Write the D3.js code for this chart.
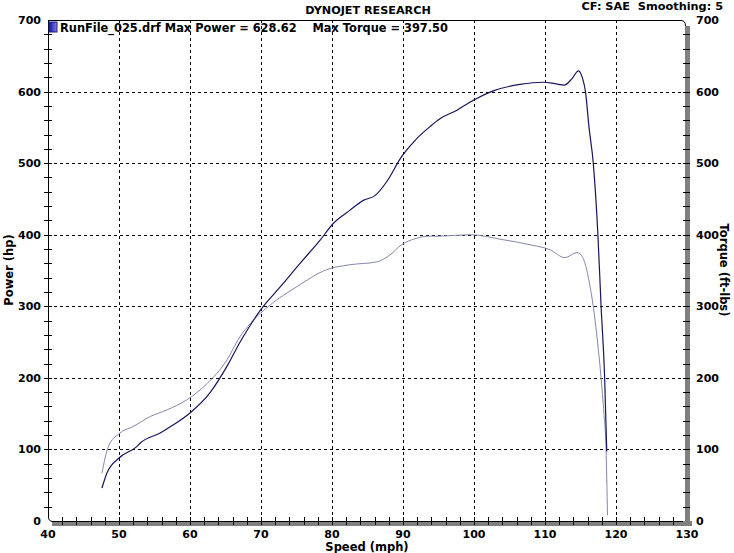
<!DOCTYPE html>
<html>
<head>
<meta charset="utf-8">
<script src="https://cdn.jsdelivr.net/npm/d3@7"></script>
<style>
  body { margin: 0; background: #fff; }
  svg text { font-family: "DejaVu Sans", Verdana, sans-serif; font-weight: bold; fill: #000; }
</style>
</head>
<body>
<svg width="734" height="553"></svg>
<script>
// speed (mph) and readings, taken off the dyno sheet
var powerSpeed = [47.6, 48.3, 50.0, 52.5, 53.0, 55.8, 57.6, 60.0, 62.8, 65.2, 67.0, 70.1, 72.7, 75.5, 78.3, 80.2, 82.5, 84.4, 86.1, 87.7, 89.8, 91.9, 93.8, 95.2, 97.6, 99.9, 102.7, 106.5, 109.8, 111.4, 112.7, 113.8, 114.7, 115.3, 115.7, 116.2, 116.8, 117.45, 117.9, 118.4, 118.7];
var powerHp    = [46, 67, 88, 104, 109, 123, 134, 151, 179, 216, 249, 297, 327, 360, 392, 416, 434, 448, 455, 474, 509, 534, 551, 562, 574, 588, 601, 610, 613, 611, 609, 618, 629, 618, 600, 550, 500, 400, 300, 200, 97];

var torqueSpeed = [47.6, 48.5, 50.0, 52.0, 54.4, 56.7, 59.5, 62.4, 65.2, 67.0, 68.5, 71.3, 75.0, 79.2, 82.5, 86.3, 88.2, 89.8, 91.9, 93.8, 95.2, 99.4, 104.1, 107.9, 110.7, 112.8, 114.5, 115.2, 115.9, 116.3, 116.8, 117.4, 117.9, 118.3, 118.6, 118.8];
var torqueFt    = [67, 104, 122, 132, 146, 155, 169, 192, 225, 257, 276, 302, 327, 351, 358, 362, 372, 386, 395, 398, 398, 400, 393, 386, 379, 368, 375, 370, 350, 330, 300, 250, 200, 150, 100, 8];

var xTicks = [40, 50, 60, 70, 80, 90, 100, 110, 120, 130];
var yTicks = [0, 100, 200, 300, 400, 500, 600, 700];

var svg = d3.select("svg");
var pL = 48, pR = 687, pT = 20, pB = 521;

var x = d3.scaleLinear().domain([40, 130]).range([pL, pR]);
var y = d3.scaleLinear().domain([0, 700]).range([pB, pT]);

// dashed grid
svg.append("g").selectAll("line")
  .data(xTicks.slice(1, -1))
  .enter().append("line")
  .attr("x1", function(d) { return Math.round(x(d)) + 0.5; })
  .attr("x2", function(d) { return Math.round(x(d)) + 0.5; })
  .attr("y1", pT).attr("y2", pB)
  .attr("stroke", "#000").attr("stroke-dasharray", "3,3");

svg.append("g").selectAll("line")
  .data(yTicks.slice(1, -1))
  .enter().append("line")
  .attr("y1", function(d) { return Math.round(y(d)) + 0.5; })
  .attr("y2", function(d) { return Math.round(y(d)) + 0.5; })
  .attr("x1", pL).attr("x2", pR)
  .attr("stroke", "#000").attr("stroke-dasharray", "3,3");

// frame: grey shadow bars on right and bottom, black lines on top
svg.append("rect").attr("x", pR - 2).attr("y", pT + 6).attr("width", 5).attr("height", pB - pT - 1).attr("fill", "#808080");
svg.append("rect").attr("x", pL + 4).attr("y", pB).attr("width", pR - pL + 1).attr("height", 5).attr("fill", "#808080");
svg.append("path")
  .attr("d", "M" + (pL + 0.5) + "," + pT + " V" + (pB - 4) + " Q" + (pL + 0.5) + "," + (pB + 0.5) + " " + (pL + 5) + "," + (pB + 0.5) +
             " H" + (pR - 4))
  .attr("fill", "none").attr("stroke", "#000");
svg.append("path")
  .attr("d", "M" + pL + "," + (pT + 0.5) + " H" + (pR - 6) + " Q" + (pR - 1.5) + "," + (pT + 0.5) + " " + (pR - 1.5) + "," + (pT + 6))
  .attr("fill", "none").attr("stroke", "#000");

// minor ticks
var yMinor = d3.range(20, 700, 20);
svg.append("g").selectAll("line").data(yMinor).enter().append("line")
  .attr("x1", pL - 4).attr("x2", pL + 4)
  .attr("y1", function(d) { return Math.round(y(d)) + 0.5; })
  .attr("y2", function(d) { return Math.round(y(d)) + 0.5; })
  .attr("stroke", "#000");
svg.append("g").selectAll("line").data(yMinor).enter().append("line")
  .attr("x1", pR - 4).attr("x2", pR + 3)
  .attr("y1", function(d) { return Math.round(y(d)) + 0.5; })
  .attr("y2", function(d) { return Math.round(y(d)) + 0.5; })
  .attr("stroke", "#000");
svg.append("g").selectAll("line").data(d3.range(42, 130, 2)).enter().append("line")
  .attr("x1", function(d) { return Math.round(x(d)) + 0.5; })
  .attr("x2", function(d) { return Math.round(x(d)) + 0.5; })
  .attr("y1", pB - 4).attr("y2", pB + 4)
  .attr("stroke", "#000");

// tick labels
svg.append("g").selectAll("text").data(yTicks).enter().append("text")
  .attr("x", pL - 7).attr("y", function(d) { return y(d) + 4; })
  .attr("text-anchor", "end").style("font-size", "11px")
  .text(function(d) { return d; });
svg.append("g").selectAll("text").data(yTicks).enter().append("text")
  .attr("x", pR + 9).attr("y", function(d) { return y(d) + 4; })
  .attr("text-anchor", "start").style("font-size", "11px")
  .text(function(d) { return d; });
svg.append("g").selectAll("text").data(xTicks).enter().append("text")
  .attr("x", function(d) { return x(d); }).attr("y", pB + 17)
  .attr("text-anchor", "middle").style("font-size", "11px")
  .text(function(d) { return d; });

// axis titles
svg.append("text").attr("x", 367).attr("y", 551).attr("text-anchor", "middle").style("font-size", "11.5px").text("Speed (mph)");
svg.append("text").attr("transform", "translate(13,270) rotate(-90)").attr("text-anchor", "middle").style("font-size", "11.5px").text("Power (hp)");
svg.append("text").attr("transform", "translate(720,270) rotate(90)").attr("text-anchor", "middle").style("font-size", "11.5px").text("Torque (ft-lbs)");

// header
svg.append("text").attr("x", 368).attr("y", 14).attr("text-anchor", "middle").style("font-size", "11.2px").text("DYNOJET RESEARCH");
svg.append("text").attr("x", 723).attr("y", 10).attr("text-anchor", "end").style("font-size", "11.3px").attr("xml:space", "preserve").text("CF: SAE  Smoothing: 5");

// legend
var grad = svg.append("defs").append("linearGradient").attr("id", "leg").attr("x1", "0").attr("x2", "1");
grad.append("stop").attr("offset", "0").attr("stop-color", "#1010a0");
grad.append("stop").attr("offset", "1").attr("stop-color", "#8080e0");
svg.append("rect").attr("x", 49).attr("y", 22).attr("width", 8).attr("height", 10).attr("fill", "url(#leg)").attr("stroke", "#202080");
svg.append("text").attr("x", 60).attr("y", 32).style("font-size", "11.4px").attr("xml:space", "preserve")
  .text("RunFile_025.drf Max Power = 628.62    Max Torque = 397.50");

// curves
var line = d3.line()
  .x(function(d) { return x(d[0]); })
  .y(function(d) { return y(d[1]); })
  .curve(d3.curveMonotoneX);

svg.append("path")
  .datum(d3.zip(torqueSpeed, torqueFt))
  .attr("d", line).attr("fill", "none").attr("stroke", "#8585ad").attr("stroke-width", 1);
svg.append("path")
  .datum(d3.zip(powerSpeed, powerHp))
  .attr("d", line).attr("fill", "none").attr("stroke", "#16165e").attr("stroke-width", 1.2);
</script>
</body>
</html>
